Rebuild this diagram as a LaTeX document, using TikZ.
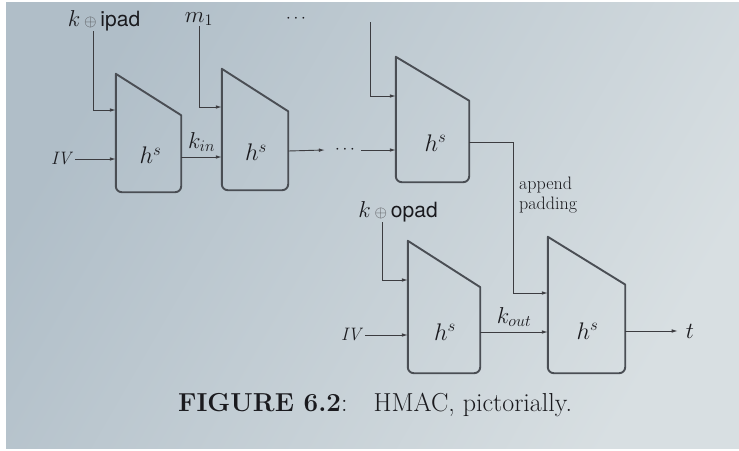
\RequirePackage{fix-cm}
\documentclass[tikz,border=0pt]{standalone}
\usepackage{fontspec}
\newfontfamily\helv{TeX Gyre Heros}
\usetikzlibrary{arrows.meta,calc}

\definecolor{pagelight}{RGB}{216,223,226}
\definecolor{pagedark}{RGB}{176,190,200}
\definecolor{boxgray}{RGB}{74,78,84}
\definecolor{ink}{RGB}{26,26,30}

\begin{document}
\begin{tikzpicture}[x=1pt,y=-1pt,
  every node/.style={text=ink, inner sep=0pt},
  boxline/.style={draw=boxgray, line width=1.9pt, line join=round},
  hbox/.style={draw=none, inner sep=0pt},
  hs/.style={font=\fontsize{24}{28}\selectfont},
  mlabel/.style={font=\fontsize{23}{27}\selectfont},
  ivlabel/.style={font=\fontsize{18}{21}\selectfont\itshape},
  arr/.style={draw=ink!85, line width=0.9pt, -{Latex[length=6pt,width=3.6pt]}},
  note/.style={font=\fontsize{18}{19.5}\selectfont, align=left},
  caption/.style={font=\fontsize{26}{30}\selectfont}
]
% page background
\fill[white] (0,0) rectangle (739,450);
\shade[shading=axis, left color=pagedark, right color=pagelight, shading angle=60]
  (6,2) rectangle (739,448);
\useasboundingbox (0,0) rectangle (739,450);

% compression function blocks (bounding rectangles)
\node[hbox, minimum width=65pt, minimum height=118pt] (b1) at (148.5,133) {};
\node[hbox, minimum width=66pt, minimum height=121pt] (b2) at (255,129.5) {};
\node[hbox, minimum width=73pt, minimum height=125pt] (b3) at (432.5,119.5) {};
\node[hbox, minimum width=72pt, minimum height=132pt] (b4) at (444,307) {};
\node[hbox, minimum width=77pt, minimum height=136pt] (b5) at (586.5,305) {};

% trapezoid outlines with rounded bottom corners
\foreach \b in {b1,b2,b3,b4,b5}
  \draw[boxline] (\b.north west) -- ($(\b.north east)!0.35!(\b.south east)$)
    [rounded corners=6pt] -- (\b.south east) -- (\b.south west)
    [sharp corners] -- cycle;

% block labels
\foreach \b/\dx in {b1/2,b2/1,b3/3,b4/1,b5/1}
  \node[hs] (h\b) at ($(\b.south)!0.31!(\b.north)+(\dx,0)$) {$h^s$};

% inner hash inputs
\node[mlabel] (kipad) at (104,21) {$k$\,{\color{ink!75}$\scriptstyle\oplus$}\,{\helv\fontsize{21}{25}\selectfont ipad}};
\node[mlabel] (m1) at (199,19) {$m_1$};
\node[font=\fontsize{17}{20}\selectfont] (topdots) at (296,19) {$\cdots$};
\coordinate (m3top) at (370,22);
\node[ivlabel] (iv1) at (61,159) {IV};

\draw[arr] (kipad.south -| 93,0) |- (b1.west |- 0,110);
\draw[arr] (m1.south) |- (b2.west |- 0,107);
\draw[arr] (m3top) |- (b3.west |- 0,96);
\draw[arr] (iv1.east) ++(4,0) -- (b1.west |- iv1);

% chaining values
\draw[arr] (b1.east |- 0,157) -- (b2.west |- 0,157)
  node[midway, above=5pt, mlabel] (kin) {$k_{in}$};
\node[font=\fontsize{17}{20}\selectfont] (middots) at (345,150) {$\cdots$};
\draw[arr] (b2.east |- 0,151) -- ([xshift=-10pt]middots.west);
\draw[arr] ([xshift=6pt]middots.east) -- (b3.west |- middots);

% inner result, padded, into the outer hash
\coordinate (turn) at (513,142);
\draw[arr] (b3.east |- turn) -- (turn) |- (b5.west |- 0,293);
\node[note, anchor=west] (pad) at (519,195) {append\\padding};

% outer hash inputs
\node[mlabel] (kopad) at (398,212) {$k$\,{\color{ink!75}$\scriptstyle\oplus$}\,{\helv\fontsize{21}{25}\selectfont opad}};
\node[ivlabel] (iv2) at (351,335) {IV};
\draw[arr] (kopad.south -| 382,0) |- (b4.west |- 0,280);
\draw[arr] (iv2.east) ++(4,0) -- (b4.west |- iv2);

\draw[arr] (b4.east |- 0,332) -- (b5.west |- 0,332)
  node[midway, above=5pt, mlabel] (kout) {$k_{out}$};
\node[mlabel] (tag) at (690,331) {$t$};
\draw[arr] (b5.east |- tag) -- ([xshift=-8pt]tag.west);

% caption
\node[caption, anchor=base west] (cap) at (178,411)
  {\textbf{FIGURE 6.2}:\hspace{1em}HMAC, pictorially.};
\end{tikzpicture}
\end{document}
